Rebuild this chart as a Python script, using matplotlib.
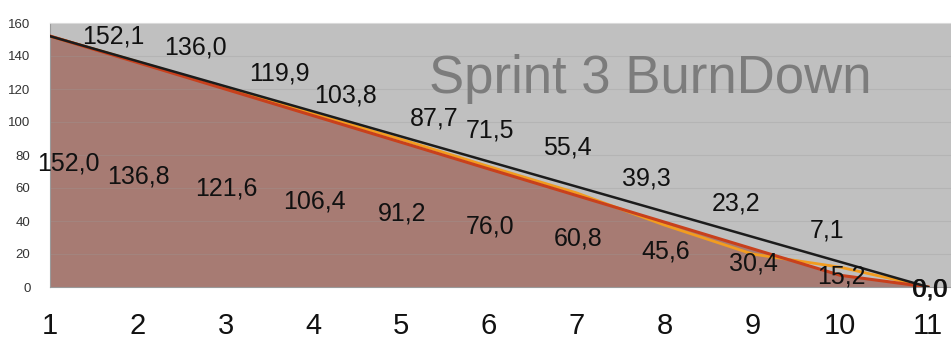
import matplotlib
matplotlib.use("Agg")
import matplotlib.pyplot as plt

# Sprint days and the three burndown series (hours)
days = [1, 2, 3, 4, 5, 6, 7, 8, 9, 10, 11]
ideal = [152.0, 136.8, 121.6, 106.4, 91.2, 76.0, 60.8, 45.6, 30.4, 15.2, 0.0]
remaining = [152.1, 136.0, 119.9, 103.8, 87.7, 71.5, 55.4, 39.3, 23.2, 7.1, 0.0]
tracked = [152.0, 136.5, 120.8, 105.0, 89.5, 73.0, 57.0, 37.5, 20.0, 12.0, 0.0]
y_ticks = [0, 20, 40, 60, 80, 100, 120, 140, 160]

# label offsets in pixels for the "remaining" values (hand placed)
remaining_offsets = [(63, 0), (58, 15), (54, 16), (32, 20), (33, 24), (1, 39),
                     (-9, 48), (-18, 44), (-16, 45), (-13, 45), (2, -2)]

LABEL_FONT = ["Liberation Sans", "DejaVu Sans"]

fig = plt.figure(figsize=(9.51, 3.44), dpi=100)
ax = fig.add_axes([50 / 951, 1 - 287 / 344, 1 - 50 / 951, (287 - 23) / 344])
ax.set_facecolor("#c0c0c0")

# filled area under the remaining-work curve
ax.fill_between(days, remaining, 0, color="#a77b73", linewidth=0, zorder=1)

# horizontal gridlines every 20
for y in y_ticks[1:]:
    ax.axhline(y, color="#9a9a9a", linewidth=0.8, alpha=0.3, zorder=2)

ax.plot(days, tracked, color="#f29c1f", linewidth=2.0, zorder=3)
ax.plot(days, remaining, color="#c8401c", linewidth=2.2, zorder=4)
ax.plot(days, ideal, color="#1c1c1c", linewidth=1.8, zorder=5)

fmt = lambda v: f"{v:.1f}".replace(".", ",")

for d, v, (dx, dy) in zip(days, remaining, remaining_offsets):
    ax.annotate(fmt(v), xy=(d, v), xytext=(dx, dy), textcoords="offset pixels",
                ha="center", va="center", fontsize=18, color="#111111",
                family=LABEL_FONT, zorder=6, annotation_clip=False)

# ideal values are labelled halfway up the area
for i, (d, v) in enumerate(zip(days, ideal)):
    dx = 18 if i == 0 else 1
    ax.annotate(fmt(v), xy=(d, v / 2), xytext=(dx, -2), textcoords="offset pixels",
                ha="center", va="center", fontsize=18, color="#111111",
                family=LABEL_FONT, zorder=6, annotation_clip=False)

ax.text(0.6835, 1 - 93 / 344, "Sprint 3 BurnDown", transform=fig.transFigure,
        ha="center", va="baseline", fontsize=38, color="#7c7c7c",
        family=LABEL_FONT, zorder=7)

ax.set_xlim(1, 11 + 23 / 87.8)
ax.set_ylim(0, 160)
ax.set_xticks(days)
ax.set_xticklabels([str(d) for d in days], fontsize=21, family=LABEL_FONT,
                   color="#111111")
ax.set_yticks(y_ticks)
ax.set_yticklabels([str(t) for t in y_ticks], fontsize=9.5, family=LABEL_FONT,
                   color="#333333")
ax.tick_params(axis="x", length=0, pad=18)
ax.tick_params(axis="y", length=0, pad=14)

ax.spines["right"].set_visible(False)
ax.spines["top"].set_color("#dadada")
ax.spines["left"].set_color("#9a9a9a")
ax.spines["bottom"].set_color("#9a9a9a")

fig.savefig("out.png", dpi=100)
